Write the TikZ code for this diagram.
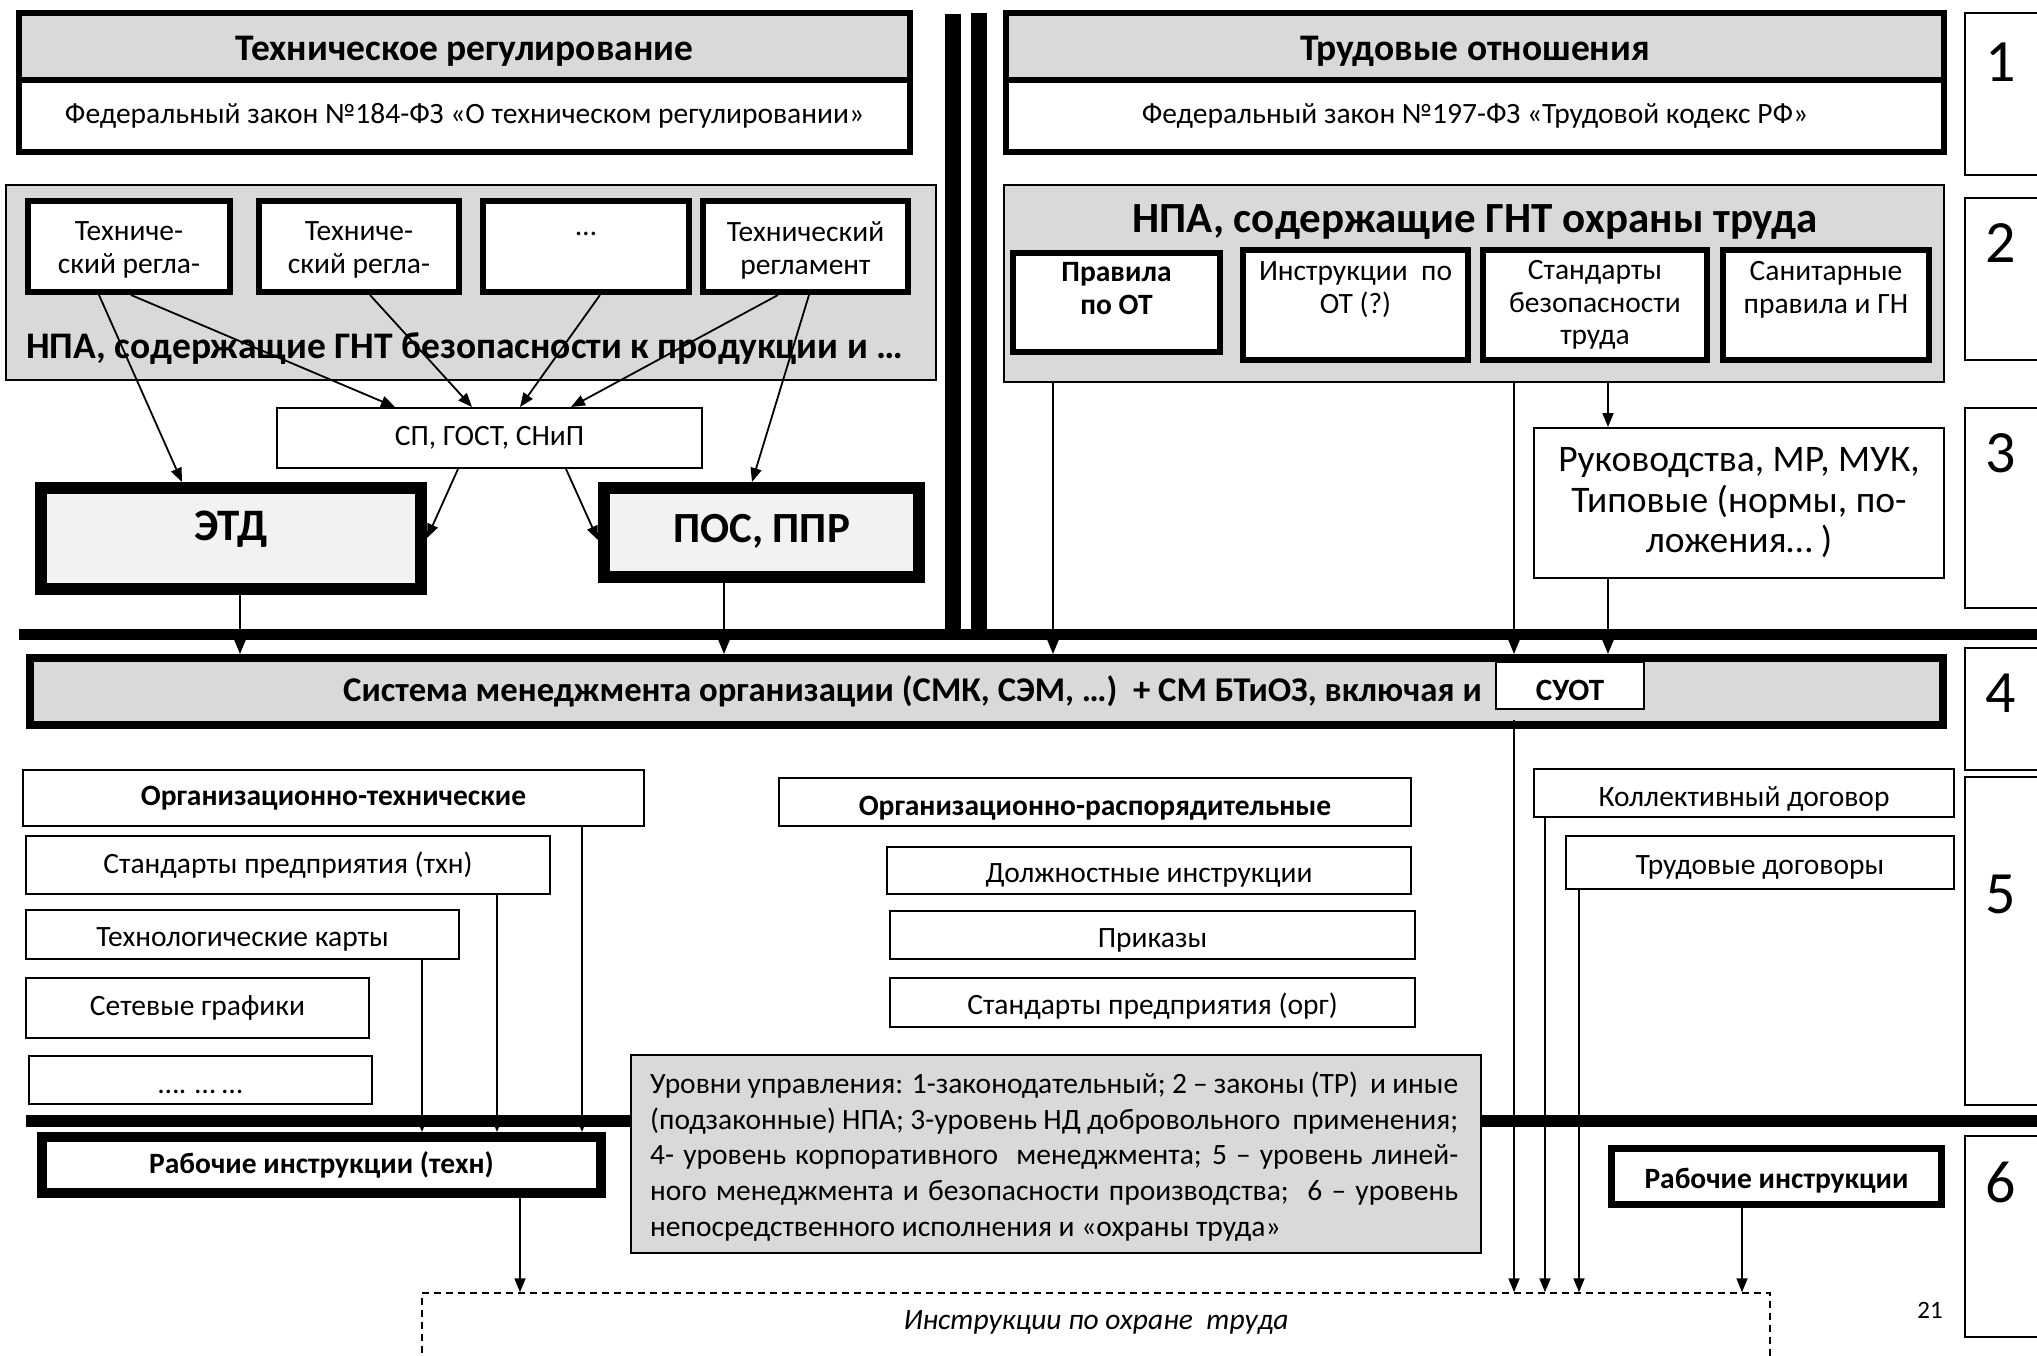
\documentclass[tikz,border=0pt]{standalone}
\usepackage{fontspec}
\setmainfont{Carlito}
\usetikzlibrary{arrows.meta}
\newcommand\fsz[2]{\fontsize{#1}{#2}\selectfont}
\definecolor{grayA}{HTML}{D9D9D9}
\definecolor{grayB}{HTML}{F2F2F2}
\tikzset{
  every node/.style={align=center, inner sep=0pt},
  wh/.style 2 args={minimum width=#1pt, minimum height=#2pt},
  thinb/.style={draw, line width=2pt, fill=white},
  thickb/.style={draw, line width=6pt, fill=white},
  heavyb/.style={draw, line width=12pt, fill=grayB},
  arr/.style={line width=1.8pt, -{Triangle[length=14pt,width=11pt]}},
  rule/.style={line width=#1pt},
  numtxt/.style={font=\fsz{60}{66}},
  hdr/.style={font=\bfseries\fsz{37.5}{42}},
}
\begin{document}
\begin{tikzpicture}[x=1pt,y=-1pt,font=\fsz{29.5}{33}]
\path[use as bounding box, fill=white] (0,0) rectangle (2037,1355);
\clip (0,0) rectangle (2037,1355);

% heavy rules
\draw[rule=16] (953,14) -- (953,634);
\draw[rule=16] (979,13) -- (979,634);
\draw[rule=11] (19,634) -- (2045,634);
\draw[rule=12] (26,1121) -- (2045,1121);

% level boxes
\node[thinb, wh={95}{162}] (n1) at (2012.5,94) {};
\node[thinb, wh={95}{162}] (n2) at (2012.5,279) {};
\node[thinb, wh={95}{200}] (n3) at (2012.5,508) {};
\node[thinb, wh={95}{122}] (n4) at (2012.5,709) {};
\node[thinb, wh={95}{328}] (n5) at (2012.5,941) {};
\node[thinb, wh={95}{201}] (n6) at (2012.5,1236.5) {};
\node[numtxt] (n1t) at (2001,62) {1};
\node[numtxt] (n2t) at (2001,243) {2};
\node[numtxt] (n3t) at (2001,453) {3};
\node[numtxt] (n4t) at (2001,693) {4};
\node[numtxt] (n5t) at (2001,894) {5};
\node[numtxt] (n6t) at (2001,1182) {6};

% top boxes
\node[thickb, wh={891}{72}] (trl) at (464.5,116) {Федеральный закон №184-ФЗ «О техническом регулировании»};
\node[thickb, fill=grayA, wh={891}{67}] (trh) at (464.5,46.5) {};
\node[hdr] (trht) at (464.5,51.5) {Техническое регулирование};
\node[thickb, wh={938}{72}] (tol) at (1475,116) {Федеральный закон №197-ФЗ «Трудовой кодекс РФ»};
\node[thickb, fill=grayA, wh={938}{67}] (toh) at (1475,46.5) {};
\node[hdr] (toht) at (1475,51.5) {Трудовые отношения};

% left NPA
\node[thinb, fill=grayA, wh={930}{195}] (npal) at (471,282.5) {};
\node[anchor=west, font=\bfseries\fsz{37.5}{42}] (npalt) at (26,349) {НПА, содержащие ГНТ безопасности к продукции и …};
\node[thickb, wh={202}{91}] (b1) at (129,246.5) {};
\node[thickb, wh={200}{91}] (b2) at (359,246.5) {};
\node[thickb, wh={206}{91}] (b3) at (586,246.5) {};
\node[thickb, wh={205}{91}] (b4) at (805.5,246.5) {};
\node (b1t) at (129,250) {Техниче-\\ский регла-};
\node (b2t) at (359,250) {Техниче-\\ский регла-};
\node (b3t) at (586,250) {…\\\phantom{Т}};
\node (b4t) at (805.5,250) {Технический\\регламент};

\node[thinb, wh={425}{60}] (sp) at (489.5,438) {СП, ГОСТ, СНиП};
\node[heavyb, wh={380}{101}] (etd) at (231,538.5) {};
\node[font=\bfseries\fsz{45}{50}] (etdt) at (231,529) {ЭТД};
\node[heavyb, wh={315}{89}] (pos) at (761.5,532.5) {};
\node[font=\bfseries\fsz{43}{48}] (post) at (761.5,531) {ПОС, ППР};

% right NPA
\node[thinb, fill=grayA, wh={940}{197}] (npar) at (1474,283.5) {};
\node[font=\bfseries\fsz{43}{48}] (npart) at (1475,222) {НПА, содержащие ГНТ охраны труда};
\node[thickb, wh={207}{99}] (r1) at (1116.5,302.5) {};
\node[font=\bfseries\fsz{29.5}{33}] (r1t) at (1116.5,289) {Правила\\по ОТ};
\node[thickb, wh={225}{110}] (r2) at (1355.5,305) {};
\node (r2t) at (1355.5,290) {Инструкции\ \ по\\ОТ (?)};
\node[thickb, wh={224}{110}] (r3) at (1595,305) {};
\node[font=\fsz{29.5}{32.5}] (r3t) at (1595,305) {Стандарты\\безопасности\\труда};
\node[thickb, wh={206}{110}] (r4) at (1826,305) {};
\node (r4t) at (1826,290) {Санитарные\\правила и ГН};

\node[thinb, wh={410}{150}] (ruk) at (1739,503) {};
\node[font=\fsz{37.5}{40.5}] (rukt) at (1739,503) {Руководства, МР, МУК,\\Типовые (нормы, по-\\ложения… )};

% management system
\node[draw, line width=8pt, fill=grayA, wh={1913}{67}] (smo) at (986.5,691.5) {};
\node[anchor=east, font=\bfseries\fsz{34.7}{38}] (smot) at (1482,691) {Система менеджмента организации (СМК, СЭМ, …)\ \ + СМ БТиОЗ, включая и};
\node[thinb, wh={148}{47}] (suot) at (1570,685.5) {};
\node[font=\bfseries\fsz{31}{34}] (suott) at (1570,690) {СУОТ};

% lower left
\node[thinb, wh={621}{56}] (ot) at (333.5,798) {\bfseries Организационно-технические};
\node[thinb, wh={524}{58}] (st1) at (288,865) {Стандарты предприятия (тхн)};
\node[thinb, wh={433}{49}] (tk) at (242.5,934.5) {};
\node (tkt) at (242.5,939) {Технологические карты};
\node[thinb, wh={343}{60}] (sg) at (197.5,1008) {Сетевые графики};
\node[thinb, wh={343}{48}] (dd) at (200.5,1080) {};
\node (ddt) at (200.5,1087) {\strut…. … …};
\node[draw, line width=10pt, fill=white, wh={559}{56}] (rw1) at (321.5,1165) {\bfseries Рабочие инструкции (техн)};

% middle
\node[thinb, wh={632}{48}] (orp) at (1095,802) {};
\node (orpt) at (1095,808) {\bfseries Организационно-распорядительные};
\node[thinb, wh={524}{47}] (di) at (1149,870.5) {};
\node (dit) at (1149,875) {Должностные инструкции};
\node[thinb, wh={525}{48}] (pr) at (1152.5,935) {};
\node (prt) at (1152.5,940) {Приказы};
\node[thinb, wh={525}{49}] (so) at (1152.5,1002.5) {};
\node (sot) at (1152.5,1006) {Стандарты предприятия (орг)};

% legend
\node[thinb, fill=grayA, wh={850}{198}] (leg) at (1056,1154) {};
\node[anchor=base west] (leg1) at (650,1093) {\hbox to 808pt{Уровни управления: 1-законодательный; 2 – законы (ТР)\ \ и иные}};
\node[anchor=base west] (leg2) at (650,1129) {\hbox to 808pt{(подзаконные) НПА; 3-уровень НД добровольного\ \ применения;}};
\node[anchor=base west] (leg3) at (650,1164) {\hbox to 808pt{4- уровень корпоративного\ \ менеджмента; 5 – уровень линей-}};
\node[anchor=base west] (leg4) at (650,1200) {\hbox to 808pt{ного менеджмента и безопасности производства;\ \ 6 – уровень}};
\node[anchor=base west] (leg5) at (650,1236) {непосредственного исполнения и «охраны труда»};

% lower right
\node[thinb, wh={420}{48}] (kd) at (1744,793) {};
\node (kdt) at (1744,799) {Коллективный договор};
\node[thinb, wh={388}{53}] (td) at (1760,862.5) {};
\node (tdt) at (1760,867) {Трудовые договоры};
\node[draw, line width=7pt, fill=white, wh={330}{56}] (rw2) at (1776.5,1176.5) {};
\node (rw2t) at (1776.5,1181) {\bfseries Рабочие инструкции};

% bottom dashed box
\node[draw, line width=1.5pt, dash pattern=on 7pt off 5pt, wh={1348}{107}] (ins) at (1096,1346.5) {};
\node (inst) at (1096,1322) {\itshape Инструкции по охране\ \ труда};
\node (pg) at (1930,1310) {\fsz{25}{30}21};

% connectors
\draw[arr] (b1.south -| 131,0) -- (sp.north -| 395,0);
\draw[arr] (b2.south -| 370,0) -- (sp.north -| 472,0);
\draw[arr] (b3.south -| 600,0) -- (sp.north -| 520,0);
\draw[arr] (b4.south -| 778,0) -- (sp.north -| 571,0);
\draw[arr] (b1.south -| 99,0) -- (etd.north -| 182,0);
\draw[arr] (b4.south -| 809,0) -- (pos.north -| 752,0);
\draw[arr] (sp.south -| 458,0) -- (etd.east |- 0,538);
\draw[arr] (sp.south -| 566,0) -- (pos.west |- 0,540);
\draw[arr] (etd.south -| 240,0) -- (smo.north -| 240,0);
\draw[arr] (pos.south -| 724,0) -- (smo.north -| 724,0);
\draw[arr] (npar.south -| 1053,0) -- (smo.north -| 1053,0);
\draw[arr] (npar.south -| 1514,0) -- (smo.north -| 1514,0);
\draw[arr] (npar.south -| 1608,0) -- (ruk.north -| 1608,0);
\draw[arr] (ruk.south -| 1608,0) -- (smo.north -| 1608,0);
\draw[arr, shorten <=10pt] (suot.south -| 1514,0) -- (ins.north -| 1514,0);
\draw[arr] (kd.south -| 1545,0) -- (ins.north -| 1545,0);
\draw[arr] (td.south -| 1579,0) -- (ins.north -| 1579,0);
\draw[arr] (rw2.south -| 1742,0) -- (ins.north -| 1742,0);
\draw[arr] (rw1.south -| 520,0) -- (ins.north -| 520,0);
\draw[arr] (tk.south -| 422,0) -- (rw1.north -| 422,0);
\draw[arr] (st1.south -| 497,0) -- (rw1.north -| 497,0);
\draw[arr] (ot.south -| 582,0) -- (rw1.north -| 582,0);
\end{tikzpicture}
\end{document}
